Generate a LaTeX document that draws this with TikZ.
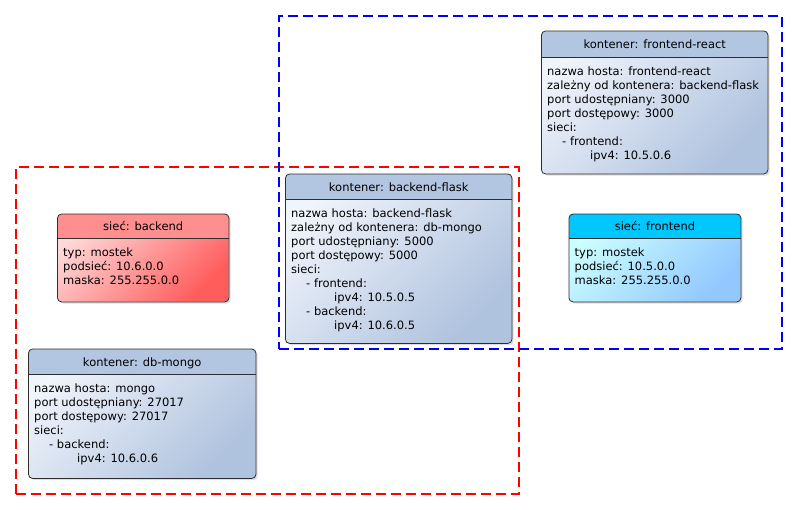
\documentclass[tikz,border=0pt]{standalone}
\usepackage{fontspec}
\setmainfont{DejaVu Sans}
\usetikzlibrary{positioning,calc,shadows}
\definecolor{kontA}{HTML}{F0F4FB}
\definecolor{kontB}{HTML}{AFC2DE}
\definecolor{kontK}{HTML}{B3C6E1}
\definecolor{czerA}{HTML}{FFD8D8}
\definecolor{czerB}{HTML}{FF5C5C}
\definecolor{czerK}{HTML}{FF8E8E}
\definecolor{nieA}{HTML}{CCFFFF}
\definecolor{nieB}{HTML}{92C8FF}
\definecolor{nieK}{HTML}{00C8FF}
\definecolor{obrys}{HTML}{2E2E2E}
\tikzstyle{pudlo} = [anchor=north west, inner sep=0, rounded corners=4pt, drop shadow={shadow xshift=2pt, shadow yshift=-2pt, opacity=.25}]
\tikzstyle{kontener} = [pudlo, top color=kontA, bottom color=kontB, shading angle=45]
\tikzstyle{siecB} = [pudlo, top color=czerA, bottom color=czerB, shading angle=45]
\tikzstyle{siecF} = [pudlo, top color=nieA, bottom color=nieB, shading angle=45]
\tikzstyle{obwod} = [draw=obrys, line width=.8pt, rounded corners=4pt]
\tikzstyle{tytul} = [anchor=base, inner sep=0, font=\fontsize{11.5}{14}\selectfont]
\tikzstyle{tekst} = [anchor=north west, inner sep=0, align=left, font=\fontsize{11.5}{14}\selectfont]
\tikzstyle{ramka} = [anchor=north west, inner sep=0, outer sep=0, line width=2pt, dash pattern=on 10pt off 5pt]

\begin{document}
\begin{tikzpicture}[x=1pt, y=-1pt]
            \useasboundingbox (0,0) rectangle (798,509);
            %%%%% Networks (dashed frames) %%%%%
            \node (S1) [ramka, draw=red, minimum width=503, minimum height=327] at (16,167) {};
            \node (S2) [ramka, draw=blue, minimum width=503, minimum height=333] at (279,16) {};

            %%%%% frontend-react %%%%%
            \node (A) [kontener, minimum width=226, minimum height=142.5] at (541.5,31) {};
            \begin{scope}
                \clip[rounded corners=4pt] (A.north west) rectangle (A.south east);
                \fill[kontK] (A.north west) rectangle ($(A.north east)+(0,26)$);
            \end{scope}
            \draw[obwod] (A.north west) rectangle (A.south east);
            \draw[obwod] ($(A.north west)+(0,26)$) -- ($(A.north east)+(0,26)$);
            \node (A1) [tytul] at ($(A.north)+(0,17.5)$) {kontener: frontend-react};
            \node (A2) [tekst] at ($(A.north west)+(5.5,35.3)$) {nazwa hosta: frontend-react\\
                zależny od kontenera: backend-flask\\port udostępniany: 3000\\port dostępowy: 3000\\sieci:\\
                \hspace*{15pt}- frontend:\\\hspace*{43pt}ipv4: 10.5.0.6};

            %%%%% backend-flask %%%%%
            \node (B) [kontener, minimum width=226, minimum height=169] at (285.5,174) {};
            \begin{scope}
                \clip[rounded corners=4pt] (B.north west) rectangle (B.south east);
                \fill[kontK] (B.north west) rectangle ($(B.north east)+(0,25.5)$);
            \end{scope}
            \draw[obwod] (B.north west) rectangle (B.south east);
            \draw[obwod] ($(B.north west)+(0,25.5)$) -- ($(B.north east)+(0,25.5)$);
            \node (B1) [tytul] at ($(B.north)+(0,17.3)$) {kontener: backend-flask};
            \node (B2) [tekst] at ($(B.north west)+(5.5,34.8)$) {nazwa hosta: backend-flask\\
                zależny od kontenera: db-mongo\\port udostępniany: 5000\\port dostępowy: 5000\\sieci:\\
                \hspace*{15pt}- frontend:\\\hspace*{43pt}ipv4: 10.5.0.5\\
                \hspace*{15pt}- backend:\\\hspace*{43pt}ipv4: 10.6.0.5};

            %%%%% siec backend %%%%%
            \node (C) [siecB, minimum width=171, minimum height=87.5] at (57.5,214) {};
            \begin{scope}
                \clip[rounded corners=4pt] (C.north west) rectangle (C.south east);
                \fill[czerK] (C.north west) rectangle ($(C.north east)+(0,24.5)$);
            \end{scope}
            \draw[obwod] (C.north west) rectangle (C.south east);
            \draw[obwod] ($(C.north west)+(0,24.5)$) -- ($(C.north east)+(0,24.5)$);
            \node (C1) [tytul] at ($(C.north)+(0,16.8)$) {sieć: backend};
            \node (C2) [tekst] at ($(C.north west)+(5.5,33.8)$) {typ: mostek\\podsieć: 10.6.0.0\\maska: 255.255.0.0};

            %%%%% db-mongo %%%%%
            \node (D) [kontener, minimum width=227, minimum height=129] at (28.5,349) {};
            \begin{scope}
                \clip[rounded corners=4pt] (D.north west) rectangle (D.south east);
                \fill[kontK] (D.north west) rectangle ($(D.north east)+(0,25.5)$);
            \end{scope}
            \draw[obwod] (D.north west) rectangle (D.south east);
            \draw[obwod] ($(D.north west)+(0,25.5)$) -- ($(D.north east)+(0,25.5)$);
            \node (D1) [tytul] at ($(D.north)+(0,17.3)$) {kontener: db-mongo};
            \node (D2) [tekst] at ($(D.north west)+(5.5,34.8)$) {nazwa hosta: mongo\\
                port udostępniany: 27017\\port dostępowy: 27017\\sieci:\\
                \hspace*{15pt}- backend:\\\hspace*{43pt}ipv4: 10.6.0.6};

            %%%%% siec frontend %%%%%
            \node (E) [siecF, minimum width=171.5, minimum height=87.5] at (569,214) {};
            \begin{scope}
                \clip[rounded corners=4pt] (E.north west) rectangle (E.south east);
                \fill[nieK] (E.north west) rectangle ($(E.north east)+(0,24.5)$);
            \end{scope}
            \draw[obwod] (E.north west) rectangle (E.south east);
            \draw[obwod] ($(E.north west)+(0,24.5)$) -- ($(E.north east)+(0,24.5)$);
            \node (E1) [tytul] at ($(E.north)+(0,16.8)$) {sieć: frontend};
            \node (E2) [tekst] at ($(E.north west)+(5.5,33.8)$) {typ: mostek\\podsieć: 10.5.0.0\\maska: 255.255.0.0};
        \end{tikzpicture}
\end{document}
